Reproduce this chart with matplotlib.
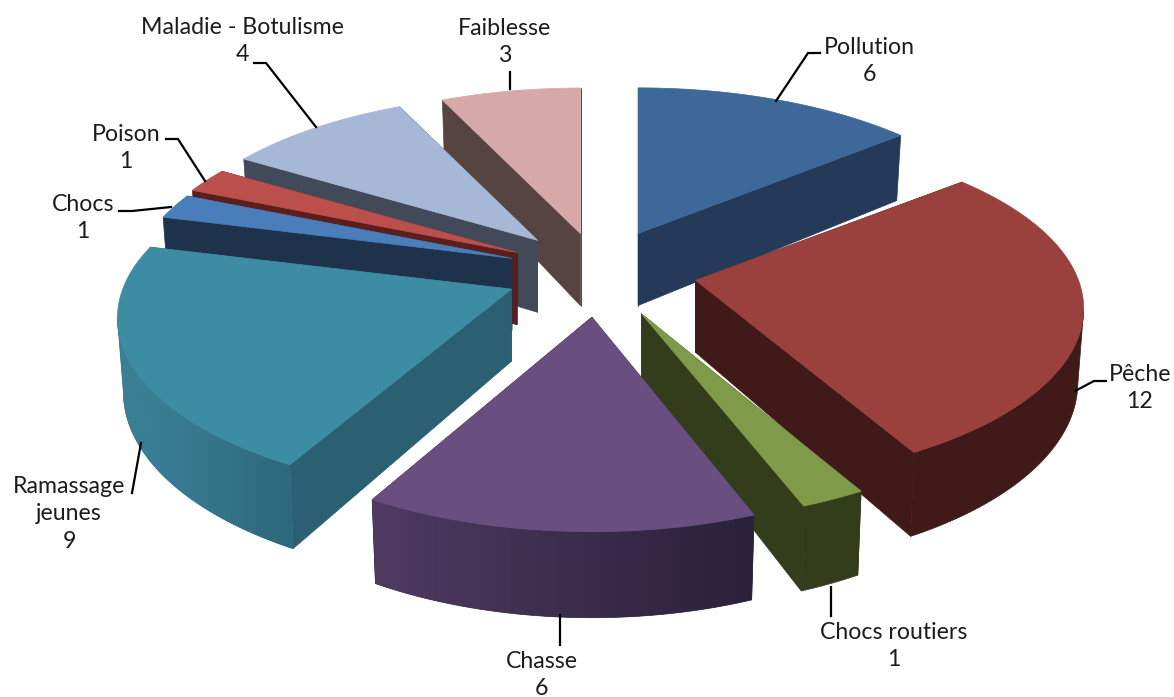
import numpy as np
from matplotlib import pyplot as plt
from matplotlib.colors import to_rgb
from matplotlib.patches import Polygon

names = ['Pollution', 'Pêche', 'Chocs routiers', 'Chasse', 'Ramassage\njeunes',
         'Chocs', 'Poison', 'Maladie - Botulisme', 'Faiblesse']
values = [6, 12, 1, 6, 9, 1, 1, 4, 3]
explode = [92, 98, 100, 98, 95, 92, 92, 92, 85]
# slices are not all the same size once the camera perspective is in
scale_x = [0.98, 0.995, 1.0, 1.0, 1.01, 0.975, 0.975, 0.97, 0.97]
scale_y = [1.0, 1.0, 1.03, 1.06, 1.02, 1.0, 1.0, 1.0, 1.0]

top_colors = ['#3d6899', '#9a403d', '#7f9a48', '#684f80', '#3c8ca4',
              '#4a7ebb', '#bb4f4c', '#a7b7d6', '#d7a8a8']
side_colors = ['#243a58', '#3f1a18', '#333d1b', '#3a2c4d', '#2a6071',
               '#1f324b', '#5a1f1c', '#424a59', '#564442']
# rim colour at the first and last angle of each slice
rim_first = ['#243a58', '#3f1a18', '#333d1b', '#2a2139', '#2e687c',
             '#1f324b', '#5a1f1c', '#424a59', '#564442']
rim_last = ['#243a58', '#3f1a18', '#333d1b', '#4f3a63', '#3a7f94',
            '#1f324b', '#5a1f1c', '#424a59', '#564442']

label_pos = [(869, 61), (1140, 388), (894, 646), (542, 675), (69, 514),
             (83, 218), (126, 148), (242, 41), (505, 42)]
leaders = [[(820, 53), (808, 53), (776, 101)],
           [(1106, 381), (1094, 381), (1075, 391)],
           [(831, 587), (831, 616)],
           [(560, 615), (560, 645)],
           [(141, 443), (132, 493)],
           [(119, 211), (132, 211), (171, 207)],
           [(166, 139), (178, 139), (205, 181)],
           [(254, 63), (266, 63), (316, 127)],
           [(510, 72), (510, 89)]]

# pie geometry in pixels
CX, CY = 599, 272
RADIUS = 385
SQUASH = 0.44
PERSP = 0.163
DEPTH = 72
TAPER = 0.985


def project(theta, apex, sx, sy):
    # theta is clockwise from the top of the pie, in radians
    u = np.sin(theta)
    v = -np.cos(theta)
    s = 1 / (1 - PERSP * v)
    return apex[0] + sx * RADIUS * u * s, apex[1] + sy * RADIUS * SQUASH * v * s, s


def drop(x, y, s, apex):
    return apex[0] + TAPER * (x - apex[0]), y + DEPTH * s


def mix(c0, c1, t):
    return tuple((1 - t) * a + t * b for a, b in zip(to_rgb(c0), to_rgb(c1)))


fig = plt.figure(figsize=(11.74, 6.97), dpi=100)
ax = fig.add_axes([0, 0, 1, 1])

edges = np.concatenate([[0], np.cumsum(values)]) / sum(values) * 2 * np.pi
mids = (edges[:-1] + edges[1:]) / 2

# slices further from the viewer get painted first
order = sorted(range(len(values)), key=lambda i: -abs(mids[i] - np.pi))

for z, i in enumerate(order):
    e = explode[i]
    apex = (CX + e * np.sin(mids[i]), CY - e * SQUASH * np.cos(mids[i]) * 1.05)
    thetas = np.linspace(edges[i], edges[i + 1], 120)
    x, y, s = project(thetas, apex, scale_x[i], scale_y[i])
    bx, by = drop(x, y, s, apex)
    zo = 2 + z

    # the two flat cut faces
    for j in (0, -1):
        face = [apex, (x[j], y[j]), (bx[j], by[j]), (apex[0], apex[1] + DEPTH)]
        ax.add_patch(Polygon(face, closed=True, fc=side_colors[i], ec=side_colors[i],
                             lw=0.5, zorder=zo))

    # curved outer wall, only the part that faces the viewer
    front = np.cos(thetas) <= -PERSP
    if front.sum() > 1:
        rim_pts = np.vstack([np.column_stack([x[front], y[front]]),
                             np.column_stack([bx[front], by[front]])[::-1]])
        mid_col = mix(rim_first[i], rim_last[i], 0.5)
        rim = Polygon(rim_pts, closed=True, fc=mid_col, ec=mid_col, lw=0.5, zorder=zo + 0.1)
        ax.add_patch(rim)
        # shaded left to right when the two end colours differ
        if rim_first[i] != rim_last[i]:
            xs = np.linspace(rim_pts[:, 0].min(), rim_pts[:, 0].max(), 256)
            t = np.clip((xs - x[0]) / (x[-1] - x[0]), 0, 1)
            grad = np.array([mix(rim_first[i], rim_last[i], v) for v in t])[None, :, :]
            im = ax.imshow(grad, extent=(xs[0], xs[-1], rim_pts[:, 1].max(), rim_pts[:, 1].min()),
                           aspect='auto', interpolation='bilinear', zorder=zo + 0.2)
            im.set_clip_path(rim)

    top = np.vstack([[apex], np.column_stack([x, y])])
    ax.add_patch(Polygon(top, closed=True, fc=top_colors[i], ec=top_colors[i],
                         lw=0.5, zorder=zo + 0.4))

for i, name in enumerate(names):
    line = np.array(leaders[i])
    ax.plot(line[:, 0], line[:, 1], color='black', lw=1.6, zorder=30,
            solid_joinstyle='miter')
    ax.text(label_pos[i][0], label_pos[i][1], f'{name}\n{values[i]}', ha='center',
            va='center', ma='center', family='Lato', fontsize=16.7, color='#1c1c1c',
            linespacing=1.39, zorder=31)

ax.set_xlim(0, 1174)
ax.set_ylim(697, 0)
ax.axis('off')

plt.savefig('out.png', dpi=100)
